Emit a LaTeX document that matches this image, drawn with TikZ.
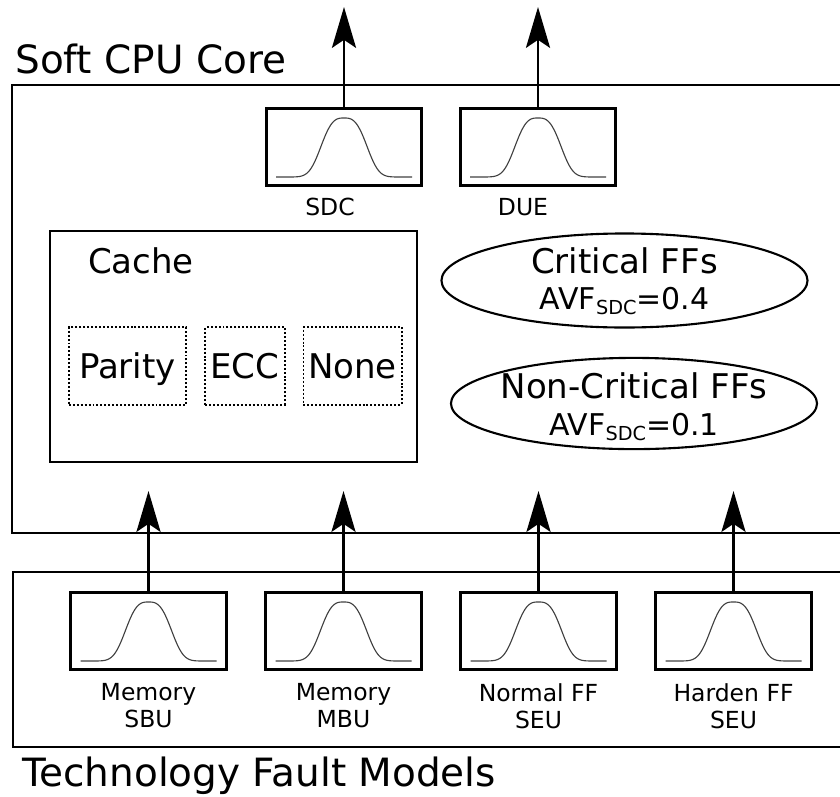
\documentclass[tikz,border=0pt]{standalone}
\usepackage{fontspec}
\setmainfont{DejaVu Sans}
\usetikzlibrary{arrows.meta,shapes.geometric}

\newcommand{\sdcsub}{\raisebox{-3.6pt}{\fontsize{13.7pt}{14pt}\selectfont SDC}}

\begin{document}
\begin{tikzpicture}[x=0.025cm,y=-0.025cm,
  frame/.style={line width=2pt},
  distbox/.style={draw,line width=2pt,minimum width=3.88cm,minimum height=1.93cm,inner sep=0pt},
  bellline/.style={line width=0.8pt,black!75},
  flow/.style={line width=2pt,-{Stealth[length=1.02cm,width=0.6cm,inset=0.2cm]}},
  codebox/.style={draw,line width=1.4pt,dash pattern=on 1.4pt off 1.4pt,inner sep=0pt,
                  text height=17.7pt,text depth=0pt,font=\fontsize{24.2pt}{29pt}\selectfont},
  ffell/.style={draw,ellipse,line width=1.5pt,inner sep=0pt,minimum width=9.15cm},
  lbl/.style={font=\fontsize{16.7pt}{19.2pt}\selectfont,inner sep=0pt,align=center},
  big/.style={font=\fontsize{24.2pt}{29pt}\selectfont,inner sep=0pt},
  avf/.style={font=\fontsize{21.3pt}{25pt}\selectfont,inner sep=0pt},
  title/.style={anchor=base west,inner sep=0pt,font=\fontsize{27.7pt}{32pt}\selectfont},
  bell/.pic={\draw[bellline,domain=-68:68,samples=90,smooth] plot (\x,{30-59*exp(-(abs(\x)/26.5)^3)});}
]
\useasboundingbox (0,0) rectangle (840,796);

% ---------- Soft CPU Core ----------
\draw[frame] (840,85) -| (12,533) -- (840,533);
\node[title] (coretitle) at (15,73) {Soft CPU Core};

% outputs
\node[distbox] (sdc) at (344,147) {};
\node[distbox] (due) at (538,147) {};
\pic at (sdc) {bell};
\pic at (due) {bell};
\node[lbl,anchor=base] (sdclbl) at (330,215) {SDC};
\node[lbl,anchor=base] (duelbl) at (523,215) {DUE};
\coordinate (sdcout) at (344,7);
\coordinate (dueout) at (538,7);
\draw[flow] (sdc.north) -- (sdcout);
\draw[flow] (due.north) -- (dueout);

% cache
\node[draw,line width=1.8pt,minimum width=9.18cm,minimum height=5.78cm,inner sep=0pt] (cache) at (233.5,346.5) {};
\node[big,anchor=base] (cachelbl) at (141,273) {Cache};
\node[codebox,minimum width=2.93cm,minimum height=1.93cm] (parity) at (127.5,366) {Parity};
\node[codebox,minimum width=1.98cm,minimum height=1.93cm] (ecc) at (245,366) {ECC};
\node[codebox,minimum width=2.45cm,minimum height=1.93cm] (none) at (352.5,366) {None};

% flip-flops
\node[ffell,minimum height=2.35cm] (crit) at (624.5,280.5) {};
\node[big,anchor=base] (critname) at (624.5,273) {Critical FFs};
\node[avf,anchor=base] (critavf) at (624.5,309) {AVF\sdcsub=0.4};
\node[ffell,minimum height=2.28cm] (noncrit) at (634,403.5) {};
\node[big,anchor=base] (noncritname) at (634,398) {Non-Critical FFs};
\node[avf,anchor=base] (noncritavf) at (634,435) {AVF\sdcsub=0.1};

% ---------- Technology Fault Models ----------
\draw[frame] (840,572) -| (13,747) -- (840,747);
\node[title] (techtitle) at (22,786) {Technology Fault Models};

\foreach \nm/\cx/\txt in {mem1/148.5/{Memory\\SBU},mem2/343.5/{Memory\\MBU},
                          nff/538.5/{Normal FF\\SEU},hff/733.5/{Harden FF\\SEU}}{
  \node[distbox] (\nm) at (\cx,631) {};
  \pic at (\nm) {bell};
  \node[lbl,anchor=north] (\nm-lbl) at (\cx,683) {\txt};
  \coordinate (\nm-in) at (\cx,491);
  \draw[flow] (\nm.north) -- (\nm-in);
}

\end{tikzpicture}
\end{document}
